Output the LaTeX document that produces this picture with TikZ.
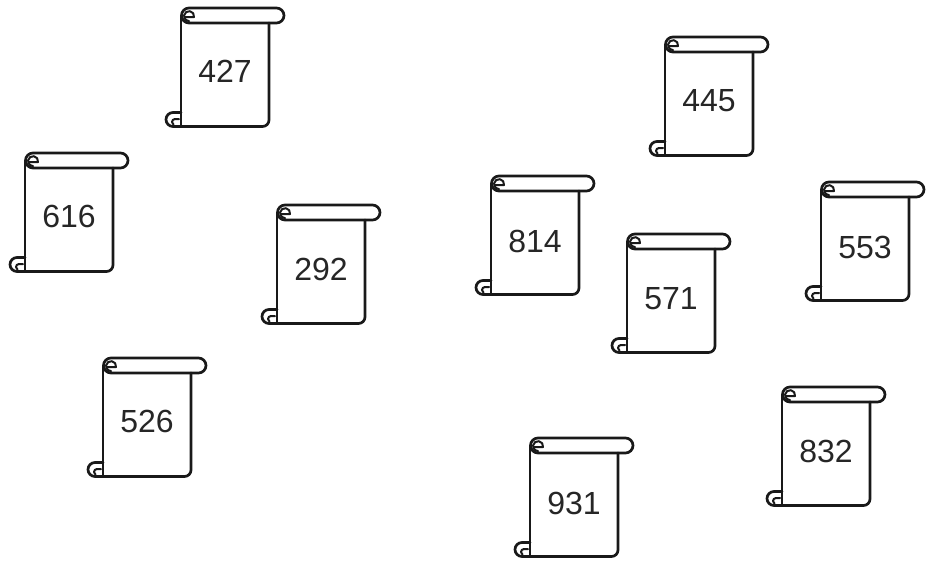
\documentclass[tikz,border=0pt]{standalone}
\usepackage{fontspec}
\setmainfont{Liberation Sans}
\tikzset{
  x=1pt,y=-1pt,
  scrollline/.style={draw=black!90,line width=2.7pt,line join=round,line cap=round},
  scrolllabel/.style={inner sep=0pt,font=\fontsize{32}{32}\selectfont,text=black!85},
}
\newcommand{\scrollsheet}[4]{%
  \begin{scope}[shift={(#1,#2)}]
    % top bar
    \draw[scrollline] (8,0) -- (95.5,0) arc (-90:90:7.5) -- (8,15) arc (90:270:7.5);
    % inner curl at top-left
    \draw[scrollline,line width=2pt] (4,9) -- (13,9) arc (10:-270:5) ;
    % sheet
    \draw[scrollline] (0,8) -- (0,118.5);
    \draw[scrollline] (88,15) -- (88,112) arc (0:90:6.5) -- (-8,118.5) arc (90:270:7) -- (0,104.5);
    % lower-left curl
    \draw[scrollline,line width=2pt] (-2,111) -- (-6,111) arc (270:120:3);
    \node[scrolllabel] (n#3) at (44,#4) {#3};
  \end{scope}}
\begin{document}
\begin{tikzpicture}
\useasboundingbox (0,0) rectangle (936,568);
\scrollsheet{181}{8}{427}{63.5}
\scrollsheet{665}{37}{445}{64}
\scrollsheet{25}{153}{616}{63.5}
\scrollsheet{491}{176}{814}{65}
\scrollsheet{821}{182}{553}{65}
\scrollsheet{277}{205}{292}{64.5}
\scrollsheet{627}{234}{571}{64.5}
\scrollsheet{103}{358}{526}{63.5}
\scrollsheet{782}{387}{832}{64.5}
\scrollsheet{530}{438}{931}{65}
\end{tikzpicture}
\end{document}
